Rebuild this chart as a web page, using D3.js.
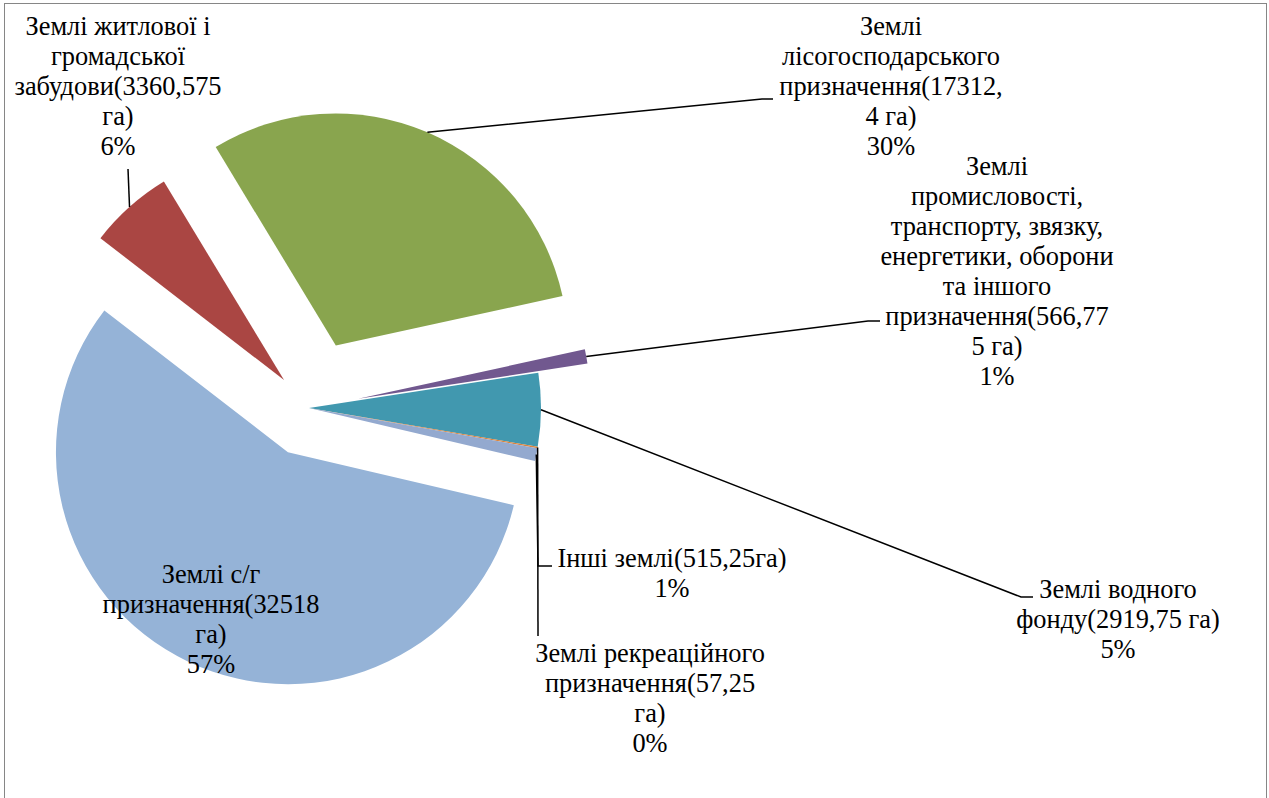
<!DOCTYPE html>
<html>
<head>
<meta charset="utf-8">
<script src="https://cdn.jsdelivr.net/npm/d3@7"></script>
<style>
  html, body { margin: 0; padding: 0; background: #fff; }
  svg { display: block; }
  text { font-family: "Liberation Serif", "Times New Roman", serif; fill: #000; }
</style>
</head>
<body>
<svg id="chart" width="1269" height="798"></svg>
<script>
// ---- data ----
const categories = [
  "Землі с/г призначення",
  "Землі житлової і громадської забудови",
  "Землі лісогосподарського призначення",
  "Землі промисловості, транспорту, звязку, енергетики, оборони та іншого призначення",
  "Землі водного фонду",
  "Землі рекреаційного призначення",
  "Інші землі"
];
const values = [32518, 3360.575, 17312.4, 566.775, 2919.75, 57.25, 515.25];
const labelLines = [
  ["Землі с/г", "призначення(32518", "га)"],
  ["Землі житлової і", "громадської", "забудови(3360,575", "га)"],
  ["Землі", "лісогосподарського", "призначення(17312,", "4 га)"],
  ["Землі", "промисловості,", "транспорту, звязку,", "енергетики, оборони", "та іншого", "призначення(566,77", "5 га)"],
  ["Землі водного", "фонду(2919,75 га)"],
  ["Землі рекреаційного", "призначення(57,25", "га)"],
  ["Інші землі(515,25га)"]
];

// ---- styling / layout ----
const colors = ["#95B3D7", "#AA4643", "#89A54E", "#71588F", "#4198AF", "#DB843D", "#93A9CF"];
const explode = [49, 37.5, 68, 50, 0, 0, 0];
const cx = 309, cy = 408, R = 232;
const startDeg = 103.2;
// label anchor: center x, first baseline y; leader: elbow and end points (null = no leader)
const labelPos = [
  { x: 211, y: 583, leader: null },
  { x: 118, y: 35,  leader: [[128, 169]] },
  { x: 891, y: 35,  leader: [[762, 99], [773, 99]] },
  { x: 997, y: 175, leader: [[868, 321], [880, 321]] },
  { x: 1118, y: 598, leader: [[1021, 597], [1033, 597]] },
  { x: 650, y: 662, leader: [[538, 636]] },
  { x: 672, y: 567, leader: [[538, 566], [552, 566]] }
];
const lineH = 30;
const fontSize = 26.4;

const svg = d3.select("#chart");

// chart area border
svg.append("rect")
  .attr("x", 4.5).attr("y", 3.5)
  .attr("width", 1262).attr("height", 820)
  .attr("fill", "none").attr("stroke", "#868686").attr("stroke-width", 1);

const total = d3.sum(values);
const a0 = startDeg * Math.PI / 180;
const pie = d3.pie().sort(null).value(d => d)
  .startAngle(a0).endAngle(a0 + 2 * Math.PI);
const arcs = pie(values);
const arc = d3.arc().innerRadius(0).outerRadius(R);

const offset = (d, i) => {
  const m = (d.startAngle + d.endAngle) / 2;
  return [Math.sin(m) * explode[i], -Math.cos(m) * explode[i]];
};

const g = svg.append("g").attr("transform", `translate(${cx},${cy})`);
g.selectAll("path.slice").data(arcs).join("path")
  .attr("class", "slice")
  .attr("d", arc)
  .attr("fill", (d, i) => colors[i])
  .attr("transform", (d, i) => { const o = offset(d, i); return `translate(${o[0]},${o[1]})`; });

// leader lines
arcs.forEach((d, i) => {
  const lp = labelPos[i];
  if (!lp.leader) return;
  const m = (d.startAngle + d.endAngle) / 2;
  const o = offset(d, i);
  const sx = cx + o[0] + Math.sin(m) * R;
  const sy = cy + o[1] - Math.cos(m) * R;
  const pts = [[sx, sy]].concat(lp.leader);
  svg.append("path")
    .attr("d", d3.line()(pts))
    .attr("fill", "none").attr("stroke", "#000").attr("stroke-width", 1.5);
});

// labels
arcs.forEach((d, i) => {
  const lp = labelPos[i];
  const pct = Math.round(values[i] / total * 100) + "%";
  const lines = labelLines[i].concat([pct]);
  const t = svg.append("text")
    .attr("text-anchor", "middle")
    .attr("font-size", fontSize);
  lines.forEach((ln, k) => {
    t.append("tspan").attr("x", lp.x).attr("y", lp.y + k * lineH).text(ln);
  });
});
</script>
</body>
</html>
